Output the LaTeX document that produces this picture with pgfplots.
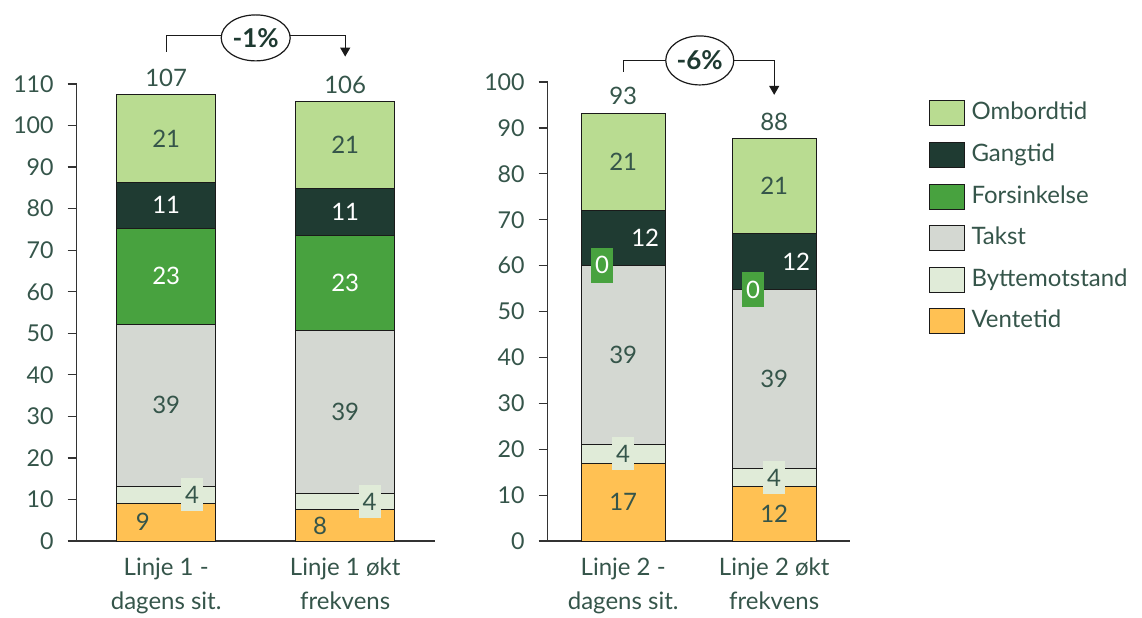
\documentclass[border=0pt]{standalone}
\usepackage{fontspec}
\setmainfont{Lato}[Numbers=Monospaced]
\usepackage{pgfplots}
\pgfplotsset{compat=1.18}
\usetikzlibrary{arrows.meta,shapes.geometric}

\definecolor{ombord}{HTML}{B9DC91}
\definecolor{gang}{HTML}{1F3B32}
\definecolor{fors}{HTML}{48A23F}
\definecolor{takst}{HTML}{D4D8D2}
\definecolor{bytte}{HTML}{E0EBD8}
\definecolor{vente}{HTML}{FFC153}
\definecolor{textc}{HTML}{35554A}
\definecolor{darkc}{HTML}{1E3A31}
\definecolor{barline}{HTML}{1A1A1A}
\definecolor{axisc}{HTML}{333333}

\newcommand{\lblfont}{\fontsize{12}{14}\selectfont}
\tikzset{
  lbl/.style={font=\lblfont, text=textc},
  wlbl/.style={font=\lblfont, text=white},
  chg/.style={ellipse,draw=barline,line width=0.6pt,fill=white,inner sep=0pt,
    text=darkc,font=\bfseries\fontsize{13}{15}\selectfont},
}

\pgfplotsset{
  frame1/.style={scale only axis, at={(38.35pt,-270.5pt)}, anchor=south west,
    width=179pt, height=228.5pt, xmin=-0.5, xmax=1.5, ymin=0, ymax=110, clip=false},
  frame2/.style={scale only axis, at={(273.85pt,-270.5pt)}, anchor=south west,
    width=151pt, height=229.5pt, xmin=-0.5, xmax=1.5, ymin=0, ymax=100, clip=false},
  panel/.style={
    ybar stacked,
    bar width=0.555,
    axis x line=bottom, axis y line=left,
    axis line style={draw=axisc, line width=0.6pt, -},
    xtick={0,1},
    x tick style={draw=none},
    y tick style={draw=axisc, line width=0.6pt},
    tick align=outside,
    major tick length=4.5pt,
    /pgf/number format/assume math mode=true,
    yticklabel style={font=\fontsize{11.6}{13}\selectfont, text=textc, xshift=-3.5pt},
    xticklabel style={align=center, font=\fontsize{12}{14}\selectfont, text=textc, yshift=-0.6pt},
    every axis plot/.append style={draw=barline, line width=0.5pt},
  }
}

\begin{document}
\begin{tikzpicture}
\useasboundingbox (0,0) rectangle (571pt,-308.5pt);

% Linje 1: bars
\begin{axis}[frame1, panel,
  ytick={0,10,...,110},
  xticklabels={Linje 1 -\\[3pt]dagens sit., Linje 1 økt\\[3pt]frekvens}]
\addplot[fill=vente]  coordinates {(0,9.1) (1,7.5)};
\addplot[fill=bytte]  coordinates {(0,4.0) (1,4.0)};
\addplot[fill=takst]  coordinates {(0,39.1) (1,39.1)};
\addplot[fill=fors]   coordinates {(0,23.1) (1,23.0)};
\addplot[fill=gang]   coordinates {(0,11.1) (1,11.2)};
\addplot[fill=ombord] coordinates {(0,21.0) (1,20.9)};
\end{axis}

% Linje 1: values and change
\begin{axis}[frame1, hide axis]
\node[lbl] at (axis cs:-0.13,4.55) {9};
\node[lbl,fill=bytte,inner sep=2pt,minimum width=11pt,minimum height=16.5pt] at (axis cs:0.145,11.1) {4};
\node[lbl] at (axis cs:0,32.65) {39};
\node[wlbl] at (axis cs:0,63.75) {23};
\node[wlbl] at (axis cs:0,80.85) {11};
\node[lbl] at (axis cs:0,96.9) {21};
\node[lbl,yshift=8.5pt] at (axis cs:0,107.4) {107};

\node[lbl] at (axis cs:0.86,3.75) {8};
\node[lbl,fill=bytte,inner sep=2pt,minimum width=11pt,minimum height=16.5pt] at (axis cs:1.136,9.5) {4};
\node[lbl] at (axis cs:1,31.05) {39};
\node[wlbl] at (axis cs:1,62.1) {23};
\node[wlbl] at (axis cs:1,79.2) {11};
\node[lbl] at (axis cs:1,95.25) {21};
\node[lbl,yshift=8.5pt] at (axis cs:1,105.7) {106};

\draw[barline,line width=0.6pt,-{Triangle[width=5pt,length=4.5pt]}]
  (axis cs:0,117.8) -- (axis cs:0,121.6) -- (axis cs:1,121.6) -- (axis cs:1,116.6);
\node[chg,minimum width=34.5pt,minimum height=23pt] at (axis cs:0.5,121.1) {-1\%};
\end{axis}

% Linje 2: bars and legend
\begin{axis}[frame2, panel,
  ytick={0,10,...,100},
  xticklabels={Linje 2 -\\[3pt]dagens sit., Linje 2 økt\\[3pt]frekvens},
  reverse legend,
  legend cell align=left,
  legend style={at={(axis description cs:1.263,0.96)}, anchor=north west,
    draw=none, fill=none, inner sep=0pt, outer sep=0pt,
    font=\fontsize{12}{14}\selectfont, text=textc,
    row sep=7.8pt, column sep=0pt,
    nodes={inner sep=0pt, outer sep=0pt, text height=8.7pt, text depth=2.2pt}},
  legend image code/.code={\draw[#1,draw=barline,line width=0.5pt]
    (0pt,-6.25pt) rectangle (17.5pt,6.25pt);},
  legend style={/tikz/every odd column/.append style={column sep=3.2pt}},
  ]
\addplot[fill=vente]  coordinates {(0,16.9) (1,11.8)};
\addlegendentry{Ventetid}
\addplot[fill=bytte]  coordinates {(0,4.2) (1,4.0)};
\addlegendentry{Byttemotstand}
\addplot[fill=takst]  coordinates {(0,39.0) (1,39.0)};
\addlegendentry{Takst}
\addplot[fill=fors]   coordinates {(0,0.0) (1,0.0)};
\addlegendentry{Forsinkelse}
\addplot[fill=gang]   coordinates {(0,11.8) (1,12.2)};
\addlegendentry{Gangtid}
\addplot[fill=ombord] coordinates {(0,21.3) (1,20.7)};
\addlegendentry{Ombordtid}
\end{axis}

% Linje 2: values and change
\begin{axis}[frame2, hide axis]
\node[lbl] at (axis cs:0,8.45) {17};
\node[lbl,fill=bytte,inner sep=2pt,minimum width=11pt,minimum height=16.5pt] at (axis cs:0,19.0) {4};
\node[lbl] at (axis cs:0,40.6) {39};
\node[wlbl,fill=fors,inner sep=2pt,minimum width=11pt,minimum height=17.5pt] at (axis cs:-0.14,60.1) {0};
\node[wlbl] at (axis cs:0.146,66.0) {12};
\node[lbl] at (axis cs:0,82.55) {21};
\node[lbl,yshift=8.5pt] at (axis cs:0,93.2) {93};

\node[lbl] at (axis cs:1,5.9) {12};
\node[lbl,fill=bytte,inner sep=2pt,minimum width=11pt,minimum height=16.5pt] at (axis cs:1,13.8) {4};
\node[lbl] at (axis cs:1,35.3) {39};
\node[wlbl,fill=fors,inner sep=2pt,minimum width=11pt,minimum height=17.5pt] at (axis cs:0.86,54.8) {0};
\node[wlbl] at (axis cs:1.146,60.9) {12};
\node[lbl] at (axis cs:1,77.35) {21};
\node[lbl,yshift=8.5pt] at (axis cs:1,87.7) {88};

\draw[barline,line width=0.6pt,-{Triangle[width=5pt,length=4.5pt]}]
  (axis cs:0,102.2) -- (axis cs:0,104.6) -- (axis cs:1,104.6) -- (axis cs:1,97.2);
\node[chg,minimum width=34pt,minimum height=24.5pt] at (axis cs:0.507,104.7) {-6\%};
\end{axis}
\end{tikzpicture}
\end{document}
